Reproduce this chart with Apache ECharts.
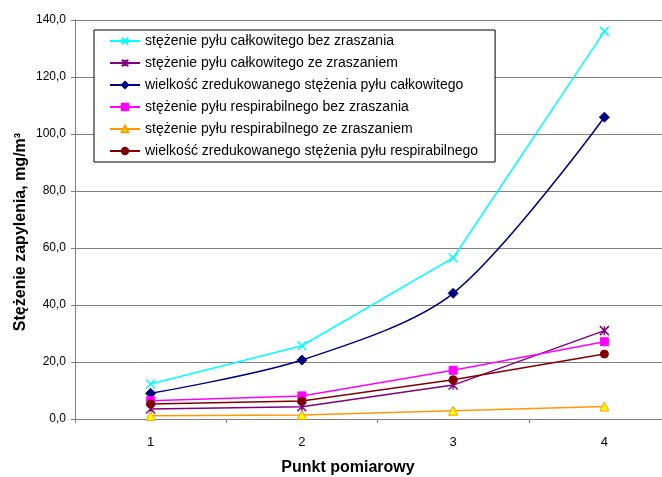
<!DOCTYPE html>
<html><head><meta charset="utf-8">
<script src="https://cdn.jsdelivr.net/npm/echarts@6/dist/echarts.min.js"></script>
<style>html,body{margin:0;padding:0;background:#fff}#c{width:662px;height:477px}</style>
</head><body><div id="c"></div>
<script>
const categories = ['1', '2', '3', '4'];
const yTicks = [0, 20, 40, 60, 80, 100, 120, 140];
const seriesNames = [
  'stężenie pyłu całkowitego bez zraszania',
  'stężenie pyłu całkowitego ze zraszaniem',
  'wielkość zredukowanego stężenia pyłu całkowitego',
  'stężenie pyłu respirabilnego bez zraszania',
  'stężenie pyłu respirabilnego ze zraszaniem',
  'wielkość zredukowanego stężenia pyłu respirabilnego'
];
const calkBez = [12.3, 25.7, 56.5, 136.0];
const calkZe = [3.5, 4.3, 11.9, 31.0];
const calkRed = [9.0, 20.7, 44.1, 105.9];
const respBez = [6.4, 8.1, 17.1, 27.1];
const respZe = [1.1, 1.4, 2.9, 4.4];
const respRed = [5.3, 6.3, 13.8, 22.8];

const font = 'Liberation Sans, Arial, sans-serif';
const chart = echarts.init(document.getElementById('c'));
function mk(name, data, color, symbol, size, opts) {
  return Object.assign({
    name, type: 'line', data, symbol, symbolSize: size,
    lineStyle: { color, width: 1.5 },
    itemStyle: { color, borderColor: color, borderWidth: 1 },
    emphasis: { disabled: true }, animation: false
  }, opts || {});
}
const xSym = 'path://M0,0L10,10M10,0L0,10';
const starSym = 'path://M0,0L10,10M10,0L0,10M5,0L5,10';
chart.setOption({
  animation: false,
  textStyle: { fontFamily: font },
  grid: { left: 75, top: 20, height: 399, width: 605, outerBoundsMode: 'none', containLabel: false },
  legend: {
    orient: 'vertical', left: 94, top: 30,
    backgroundColor: '#fff', borderColor: '#000', borderWidth: 1,
    padding: [4, 17, 4, 15], itemGap: 8, itemWidth: 30, itemHeight: 8,
    textStyle: { fontSize: 14, color: '#000', fontFamily: font },
    data: seriesNames
  },
  xAxis: {
    type: 'category', data: categories, boundaryGap: true,
    axisLine: { lineStyle: { color: '#808080', width: 1 } },
    axisTick: { show: true, alignWithLabel: false, length: 4, lineStyle: { color: '#808080' } },
    axisLabel: { fontSize: 13, color: '#000', margin: 17 },
    splitLine: { show: false }
  },
  yAxis: {
    type: 'value', min: 0, max: 140, interval: 20,
    axisLine: { show: true, lineStyle: { color: '#808080', width: 1 } },
    axisTick: { show: true, length: 4, lineStyle: { color: '#808080' } },
    axisLabel: { fontSize: 12, color: '#000', margin: 9,
      formatter: v => v.toFixed(1).replace('.', ',') },
    splitLine: { lineStyle: { color: '#808080', width: 1 } }
  },
  graphic: [
    { type: 'text', x: 348, y: 468,
      style: { text: 'Punkt pomiarowy', font: 'bold 16px ' + font, fill: '#000',
        align: 'center', verticalAlign: 'middle' } },
    { type: 'text', x: 21, y: 232, rotation: Math.PI / 2,
      style: { text: 'Stężenie zapylenia, mg/m³', font: 'bold 16px ' + font, fill: '#000',
        align: 'center', verticalAlign: 'middle' } }
  ],
  series: [
    mk(seriesNames[0], calkBez, '#00FFFF', xSym, 9, { itemStyle: { color: '#00FFFF', borderColor: '#00FFFF', borderWidth: 1.5 } }),
    mk(seriesNames[1], calkZe, '#800080', starSym, 9, { itemStyle: { color: '#800080', borderColor: '#800080', borderWidth: 1.5 } }),
    mk(seriesNames[2], calkRed, '#000080', 'diamond', 10, { smooth: 0.3 }),
    mk(seriesNames[3], respBez, '#FF00FF', 'rect', 8),
    mk(seriesNames[4], respZe, '#FF9900', 'triangle', 9, { itemStyle: { color: '#FFFF00', borderColor: '#FF9900', borderWidth: 1 } }),
    mk(seriesNames[5], respRed, '#800000', 'circle', 8)
  ]
});
</script></body></html>
